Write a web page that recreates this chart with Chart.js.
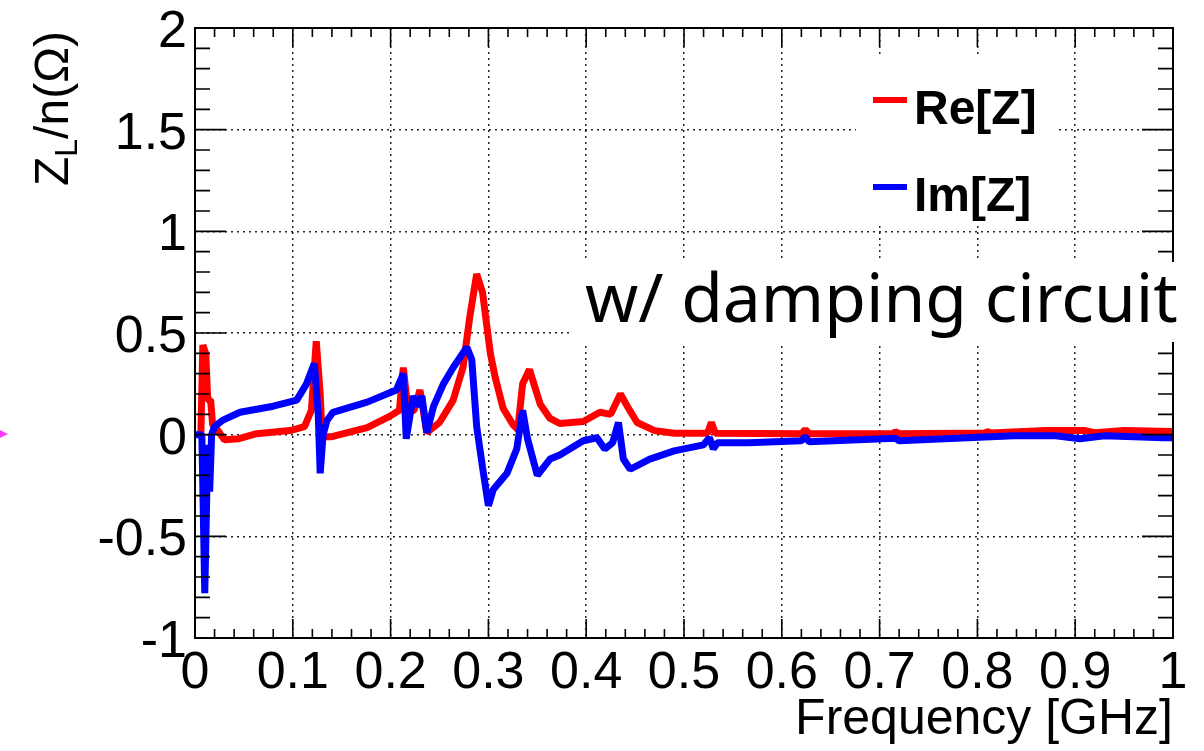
<!DOCTYPE html>
<html>
<head>
<meta charset="utf-8">
<script src="https://cdn.jsdelivr.net/npm/chart.js@4.4.0/dist/chart.umd.min.js"></script>
<style>
body{margin:0;background:#fff;}
#wrap{position:relative;width:1204px;height:751px;}
</style>
</head>
<body>
<div id="wrap"><canvas id="impedance_canvas" width="1204" height="751"></canvas></div>
<script>
// Re[Z] : frequency (GHz) and Z_L/n (Ohm)
var re_freq = [0.006, 0.008, 0.011, 0.013, 0.016, 0.018, 0.022, 0.030, 0.045, 0.063, 0.097, 0.112, 0.119, 0.124, 0.128, 0.130, 0.140, 0.176, 0.199, 0.209, 0.213, 0.218, 0.224, 0.230, 0.237, 0.250, 0.264, 0.274, 0.281, 0.288, 0.294, 0.302, 0.307, 0.315, 0.325, 0.330, 0.335, 0.342, 0.353, 0.363, 0.373, 0.397, 0.414, 0.425, 0.435, 0.442, 0.452, 0.470, 0.490, 0.524, 0.528, 0.532, 0.620, 0.624, 0.628, 0.714, 0.716, 0.720, 0.808, 0.810, 0.814, 0.870, 0.910, 0.920, 0.950, 1.000];
var re_val  = [0.0, 0.44, 0.40, 0.17, 0.17, 0.05, 0.03, -0.025, -0.02, 0.005, 0.02, 0.04, 0.12, 0.46, 0.2, -0.01, -0.01, 0.035, 0.09, 0.12, 0.33, 0.11, 0.12, 0.22, 0.01, 0.06, 0.17, 0.33, 0.58, 0.79, 0.70, 0.40, 0.28, 0.13, 0.05, 0.025, 0.25, 0.32, 0.15, 0.08, 0.055, 0.065, 0.11, 0.10, 0.20, 0.14, 0.06, 0.02, 0.007, 0.007, 0.06, 0.007, 0.005, 0.025, 0.005, 0.005, 0.015, 0.005, 0.008, 0.015, 0.008, 0.02, 0.02, 0.01, 0.02, 0.015];

// Im[Z]
var im_freq = [0.000, 0.007, 0.010, 0.012, 0.013, 0.015, 0.017, 0.020, 0.028, 0.046, 0.080, 0.104, 0.114, 0.122, 0.126, 0.128, 0.131, 0.135, 0.141, 0.176, 0.206, 0.213, 0.216, 0.223, 0.227, 0.232, 0.237, 0.244, 0.254, 0.264, 0.278, 0.283, 0.288, 0.294, 0.300, 0.305, 0.319, 0.329, 0.335, 0.340, 0.350, 0.363, 0.373, 0.397, 0.411, 0.419, 0.427, 0.433, 0.438, 0.445, 0.465, 0.490, 0.520, 0.526, 0.530, 0.534, 0.566, 0.620, 0.624, 0.628, 0.716, 0.720, 0.837, 0.880, 0.905, 0.930, 0.990, 1.000];
var im_val  = [0.0, 0.0, -0.78, -0.30, -0.05, -0.28, 0.0, 0.04, 0.07, 0.11, 0.14, 0.17, 0.25, 0.35, 0.10, -0.19, 0.0, 0.07, 0.11, 0.16, 0.22, 0.30, -0.02, 0.19, 0.14, 0.19, 0.01, 0.14, 0.25, 0.33, 0.43, 0.37, 0.04, -0.16, -0.35, -0.27, -0.19, -0.07, 0.12, -0.02, -0.20, -0.12, -0.10, -0.03, -0.015, -0.07, -0.04, 0.06, -0.12, -0.17, -0.12, -0.08, -0.05, -0.015, -0.07, -0.04, -0.04, -0.03, -0.01, -0.035, -0.018, -0.03, -0.005, -0.005, -0.02, -0.005, -0.015, -0.015];

var x_ticks = [0, 0.1, 0.2, 0.3, 0.4, 0.5, 0.6, 0.7, 0.8, 0.9, 1];
var x_tick_labels = ['0', '0.1', '0.2', '0.3', '0.4', '0.5', '0.6', '0.7', '0.8', '0.9', '1'];
var y_ticks = [-1, -0.5, 0, 0.5, 1, 1.5, 2];
var y_tick_labels = ['-1', '-0.5', '0', '0.5', '1', '1.5', '2'];

var series_names = ['Re[Z]', 'Im[Z]'];
var series_colors = ['rgb(255, 0, 0)', 'rgb(0, 0, 255)'];
var note_text = 'w/ damping circuit';

var SANS = '"Liberation Sans", Arial, Helvetica, sans-serif';

function drawText(ctx, txt, x, y, align){
	ctx.textAlign = align;
	ctx.textBaseline = 'alphabetic';
	ctx.fillText(txt, x, y);
}

var rootFrame = {
	id: 'rootFrame',
	afterDatasetsDraw: function(chart){
		var ctx = chart.ctx;
		var a = chart.chartArea;
		var xs = chart.scales.x, ys = chart.scales.y;
		ctx.save();
		ctx.strokeStyle = '#000';
		ctx.fillStyle = '#000';
		ctx.lineWidth = 2;
		ctx.strokeRect(a.left, a.top, a.right - a.left, a.bottom - a.top);

		// ticks inside the frame, mirrored
		ctx.lineWidth = 1.6;
		ctx.beginPath();
		for (var i = 0; i <= 50; i++) {
			var px = xs.getPixelForValue(i * 0.02);
			var len = (i % 5 == 0) ? 19 : 9;
			ctx.moveTo(px, a.bottom); ctx.lineTo(px, a.bottom - len);
			ctx.moveTo(px, a.top); ctx.lineTo(px, a.top + len);
		}
		for (var j = 0; j <= 30; j++) {
			var py = ys.getPixelForValue(-1 + j * 0.1);
			var l2 = (j % 5 == 0) ? 31 : 15;
			ctx.moveTo(a.left, py); ctx.lineTo(a.left + l2, py);
			ctx.moveTo(a.right, py); ctx.lineTo(a.right - l2, py);
		}
		ctx.stroke();

		// tick labels
		ctx.font = '52px ' + SANS;
		for (var k = 0; k < x_ticks.length; k++) {
			drawText(ctx, x_tick_labels[k], xs.getPixelForValue(x_ticks[k]), 688, 'center');
		}
		for (var m = 0; m < y_ticks.length; m++) {
			drawText(ctx, y_tick_labels[m], 187, ys.getPixelForValue(y_ticks[m]) + 19, 'right');
		}

		// axis titles
		ctx.font = '50px ' + SANS;
		drawText(ctx, 'Frequency [GHz]', a.right, 734, 'right');

		ctx.save();
		ctx.translate(68, 186);
		ctx.rotate(-Math.PI / 2);
		ctx.textAlign = 'left';
		ctx.font = '48px ' + SANS;
		ctx.fillText('Z', 0, 0);
		var w = ctx.measureText('Z').width;
		ctx.font = '32px ' + SANS;
		ctx.fillText('L', w, 9);
		w += ctx.measureText('L').width;
		ctx.font = '48px ' + SANS;
		ctx.fillText('/n(\u03A9)', w, 0);
		ctx.restore();

		// legend
		ctx.fillStyle = '#fff';
		ctx.fillRect(856, 56, 200, 168);
		var legY = [100, 187];
		for (var n = 0; n < series_names.length; n++) {
			ctx.strokeStyle = series_colors[n];
			ctx.lineWidth = 6;
			ctx.beginPath();
			ctx.moveTo(873, legY[n]); ctx.lineTo(907, legY[n]);
			ctx.stroke();
			ctx.fillStyle = '#000';
			ctx.font = 'bold 48px ' + SANS;
			drawText(ctx, series_names[n], 914, legY[n] + 24, 'left');
		}

		// note box
		ctx.fillStyle = '#fff';
		ctx.fillRect(572, 262, 632, 80);
		ctx.fillStyle = '#000';
		var noteFont = '"Noto Sans", "Open Sans", sans-serif';
		ctx.font = '50px ' + noteFont;
		var tw = ctx.measureText(note_text).width;
		var fs = 50 * 593 / tw;
		ctx.font = fs.toFixed(1) + 'px ' + noteFont;
		drawText(ctx, note_text, 585, 322, 'left');

		// small marker at the left edge
		ctx.fillStyle = 'rgb(255, 60, 255)';
		ctx.beginPath();
		ctx.moveTo(0, 430); ctx.lineTo(8, 434); ctx.lineTo(0, 438);
		ctx.closePath();
		ctx.fill();
		ctx.restore();
	}
};

var ctx = document.getElementById('impedance_canvas').getContext('2d');
var chart = new Chart(ctx, {
	type: 'line',
	data: {
		datasets: [{
			label: series_names[0],
			data: re_freq.map(function(f, i){ return {x: f, y: re_val[i]}; }),
			borderColor: series_colors[0],
			borderWidth: 7,
			pointRadius: 0,
			tension: 0,
			borderJoinStyle: 'bevel',
			order: 2
		}, {
			label: series_names[1],
			data: im_freq.map(function(f, i){ return {x: f, y: im_val[i]}; }),
			borderColor: series_colors[1],
			borderWidth: 7,
			pointRadius: 0,
			tension: 0,
			borderJoinStyle: 'bevel',
			order: 1
		}]
	},
	plugins: [rootFrame],
	options: {
		responsive: false,
		animation: false,
		devicePixelRatio: 1,
		layout: { padding: { left: 195, right: 31, top: 28, bottom: 113 } },
		plugins: { legend: { display: false }, tooltip: { enabled: false } },
		scales: {
			x: {
				type: 'linear', min: 0, max: 1,
				ticks: { display: false, stepSize: 0.1 },
				grid: { color: 'rgba(0,0,0,0.85)', lineWidth: 1.5, drawTicks: false },
				border: { display: false, dash: [2, 4] },
				afterFit: function(s){ s.height = 0; }
			},
			y: {
				type: 'linear', min: -1, max: 2,
				ticks: { display: false, stepSize: 0.5 },
				grid: { color: 'rgba(0,0,0,0.85)', lineWidth: 1.5, drawTicks: false },
				border: { display: false, dash: [2, 4] },
				afterFit: function(s){ s.width = 0; }
			}
		}
	}
});
</script>
</body>
</html>
